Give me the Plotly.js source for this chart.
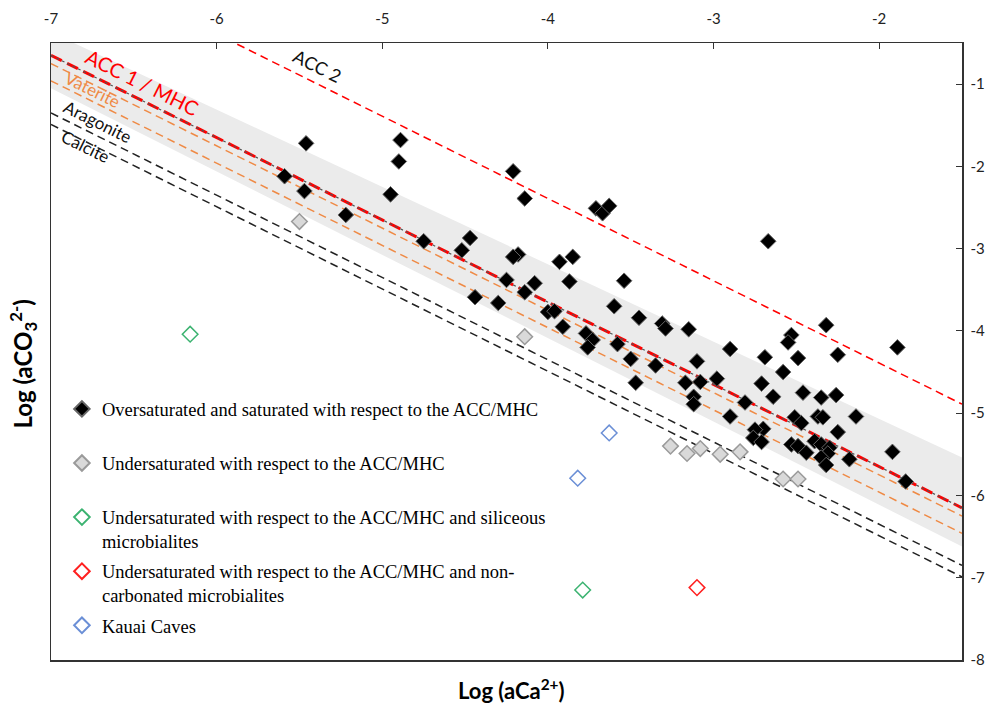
<!DOCTYPE html>
<html>
<head>
<meta charset="utf-8">
<script src="https://cdn.plot.ly/plotly-3.0.1.min.js"></script>
<style>html,body{margin:0;padding:0;background:#fff;}#chart{width:995px;height:707px;}</style>
</head>
<body>
<div id="chart"></div>
<script>
// ---- Data ----
// Oversaturated and saturated with respect to ACC/MHC (black)
const blackX = [-5.46,-4.89,-4.90,-5.59,-5.47,-4.95,-5.22,-4.21,-4.14,-3.71,-3.67,-3.63,-4.75,-4.47,-4.52,-4.18,-4.21,-3.93,-3.85,-4.25,-4.08,-3.87,-4.14,-4.44,-4.30,-3.60,-4.00,-3.96,-3.91,-3.77,-3.73,-3.76,-3.58,
  -2.67,-3.54,-3.45,-3.31,-3.29,-3.15,-3.50,-3.35,-3.47,-3.10,-2.90,-3.17,-3.08,-2.98,-3.12,-3.12,-2.81,-2.90,-2.69,-2.53,-2.55,-2.49,-2.58,-2.71,-2.64,-2.32,-2.25,-1.89,-2.46,-2.35,-2.26,-2.14,-2.37,-2.34,-2.51,-2.47,-2.25,-2.70,-2.75,-2.76,-2.71,-2.53,-2.49,-2.44,-2.39,-2.35,-2.30,-2.31,-2.35,-2.32,-2.18,-1.92,-1.84];
const blackY = [-1.72,-1.68,-1.94,-2.12,-2.30,-2.34,-2.59,-2.06,-2.39,-2.51,-2.57,-2.48,-2.91,-2.87,-3.02,-3.07,-3.10,-3.16,-3.10,-3.38,-3.42,-3.40,-3.53,-3.59,-3.66,-3.70,-3.77,-3.76,-3.95,-4.03,-4.11,-4.20,-4.16,
  -2.91,-3.39,-3.84,-3.91,-3.97,-3.98,-4.34,-4.42,-4.63,-4.37,-4.22,-4.63,-4.62,-4.58,-4.80,-4.89,-4.87,-5.04,-4.32,-4.05,-4.14,-4.33,-4.50,-4.64,-4.80,-3.93,-4.29,-4.20,-4.75,-4.81,-4.78,-5.04,-5.04,-5.05,-5.05,-5.12,-5.23,-5.19,-5.20,-5.30,-5.35,-5.38,-5.40,-5.48,-5.34,-5.38,-5.42,-5.49,-5.54,-5.63,-5.56,-5.47,-5.83];
// Undersaturated (grey)
const greyX = [-5.50,-4.14,-3.26,-3.16,-3.08,-2.96,-2.84,-2.58,-2.49];
const greyY = [-2.67,-4.07,-5.40,-5.49,-5.43,-5.50,-5.47,-5.80,-5.80];
// Undersaturated + siliceous microbialites (green)
const greenX = [-6.16,-3.79];
const greenY = [-4.04,-7.15];
// Undersaturated + non-carbonated microbialites (red)
const redX = [-3.10];
const redY = [-7.12];
// Kauai Caves (blue)
const blueX = [-3.63,-3.82];
const blueY = [-5.24,-5.79];

// Saturation lines (end points at log aCa = -7 and -1.5)
const lineX = [-7, -1.5];
const acc2Y = [0.61, -4.89];
const acc1Y = [-0.65, -6.15];
const vat1Y = [-0.75, -6.25];
const vat2Y = [-0.96, -6.46];
const aragY = [-1.35, -6.85];
const calcY = [-1.49, -6.99];
// Grey band (upper edge, lower edge)
const bandX = [-7, -1.5, -1.5, -7];
const bandY = [-0.37, -5.54, -6.62, -1.05];

// Tick labels
const xTicks = [-7, -6, -5, -4, -3, -2];
const xTickText = ['-7', '-6', '-5', '-4', '-3', '-2'];
const yTicks = [-1, -2, -3, -4, -5, -6, -7, -8];
const yTickText = ['-1', '-2', '-3', '-4', '-5', '-6', '-7', '-8'];

const legendNames = [
  "Oversaturated and saturated with respect to the ACC/MHC<br> ",
  "Undersaturated with respect to the ACC/MHC<br> ",
  "Undersaturated with respect to the ACC/MHC and siliceous<br>microbialites",
  "Undersaturated with respect to the ACC/MHC and non-<br>carbonated microbialites",
  "Kauai Caves"
];

const orange = '#ef8a45';
const traces = [
  {x: bandX, y: bandY, type: 'scatter', mode: 'lines', fill: 'toself', fillcolor: '#ebebeb', line: {width: 0}, hoverinfo: 'skip', showlegend: false},
  {x: lineX, y: calcY, mode: 'lines', line: {color: '#222', width: 1.5, dash: '8px,5px'}, showlegend: false},
  {x: lineX, y: aragY, mode: 'lines', line: {color: '#222', width: 1.5, dash: '8px,5px'}, showlegend: false},
  {x: lineX, y: vat2Y, mode: 'lines', line: {color: orange, width: 1.5, dash: '8px,5px'}, showlegend: false},
  {x: lineX, y: vat1Y, mode: 'lines', line: {color: orange, width: 1.5, dash: '8px,5px'}, showlegend: false},
  {x: lineX, y: acc1Y, mode: 'lines', line: {color: '#ff0000', width: 3, dash: '12px,6px'}, showlegend: false},
  {x: lineX, y: acc1Y, mode: 'lines', line: {color: '#555', width: 1.2, dash: 'dot'}, showlegend: false},
  {x: lineX, y: acc2Y, mode: 'lines', line: {color: '#ff0000', width: 1.5, dash: '8px,5px'}, showlegend: false},
  {x: blackX, y: blackY, mode: 'markers', name: legendNames[0], legendgroup: 'a',
   marker: {symbol: 'diamond', size: 12, color: '#000', line: {color: '#666', width: 1}}},
  {x: greyX, y: greyY, mode: 'markers', name: legendNames[1], legendgroup: 'b',
   marker: {symbol: 'diamond', size: 12, color: '#d9d9d9', line: {color: '#9a9a9a', width: 1.5}}},
  {x: greenX, y: greenY, mode: 'markers', name: legendNames[2], legendgroup: 'c',
   marker: {symbol: 'diamond', size: 12, color: '#ffffff', line: {color: '#3cb371', width: 1.5}}},
  {x: redX, y: redY, mode: 'markers', name: legendNames[3], legendgroup: 'd',
   marker: {symbol: 'diamond', size: 12, color: '#ffffff', line: {color: '#ff2020', width: 1.5}}},
  {x: blueX, y: blueY, mode: 'markers', name: legendNames[4], legendgroup: 'e',
   marker: {symbol: 'diamond', size: 12, color: '#ffffff', line: {color: '#6b8fd6', width: 1.5}}}
];

const axisFont = {family: 'Lato, "Open Sans", sans-serif', size: 15, color: '#222'};
const layout = {
  width: 995, height: 707,
  margin: {l: 51, r: 33, t: 43, b: 47},
  paper_bgcolor: '#fff', plot_bgcolor: '#fff',
  showlegend: true,
  legend: {x: 0.012, y: 0.437, xanchor: 'left', yanchor: 'top', bgcolor: 'rgba(0,0,0,0)',
    font: {family: '"Liberation Serif", "Times New Roman", serif', size: 18.5, color: '#000'},
    traceorder: 'grouped', tracegroupgap: 3, valign: 'top', itemsizing: 'constant'},
  xaxis: {range: [-7, -1.5], side: 'top', tickvals: xTicks, ticktext: xTickText, ticks: 'inside', ticklen: 6,
    tickcolor: '#333', showgrid: false, zeroline: false, showline: true, mirror: true, ticklabelstandoff: 12,
    linecolor: '#333', linewidth: 1.5, tickfont: axisFont},
  yaxis: {range: [-8, -0.5], side: 'right', tickvals: yTicks, ticktext: yTickText, ticks: 'inside', ticklen: 6,
    tickcolor: '#333', showgrid: false, zeroline: false, showline: true, mirror: true, ticklabelstandoff: 4,
    linecolor: '#333', linewidth: 1.5, tickfont: axisFont},
  annotations: [
    {text: '<b>Log (aCa<sup>2+</sup>)</b>', xref: 'paper', yref: 'paper', x: 0.505, y: -0.048, yanchor: 'middle', showarrow: false,
     font: {family: 'Lato, sans-serif', size: 22, color: '#000'}},
    {text: '<b>Log (aCO<sub>3</sub><sup>2-</sup>)</b>', xref: 'paper', yref: 'paper', x: -0.031, y: 0.48, textangle: -90, showarrow: false,
     xanchor: 'center', yanchor: 'middle', font: {family: 'Lato, sans-serif', size: 24, color: '#000'}},
    {text: 'ACC 1 / MHC', x: -6.45, y: -0.97, textangle: 26.4, showarrow: false, font: {family: 'Lato, sans-serif', size: 20, color: '#ff0000'}},
    {text: 'Vaterite', x: -6.75, y: -1.07, textangle: 26.4, showarrow: false, font: {family: 'Lato, sans-serif', size: 17, color: orange}},
    {text: 'Aragonite', x: -6.72, y: -1.46, textangle: 26.4, showarrow: false, font: {family: 'Lato, sans-serif', size: 17, color: '#111'}},
    {text: 'Calcite', x: -6.79, y: -1.76, textangle: 26.4, showarrow: false, font: {family: 'Lato, sans-serif', size: 17, color: '#111'}},
    {text: 'ACC 2', x: -5.39, y: -0.78, textangle: 26.4, showarrow: false, font: {family: 'Lato, sans-serif', size: 18, color: '#111'}}
  ]
};

Plotly.newPlot('chart', traces, layout, {displayModeBar: false, staticPlot: true});
</script>
</body>
</html>
